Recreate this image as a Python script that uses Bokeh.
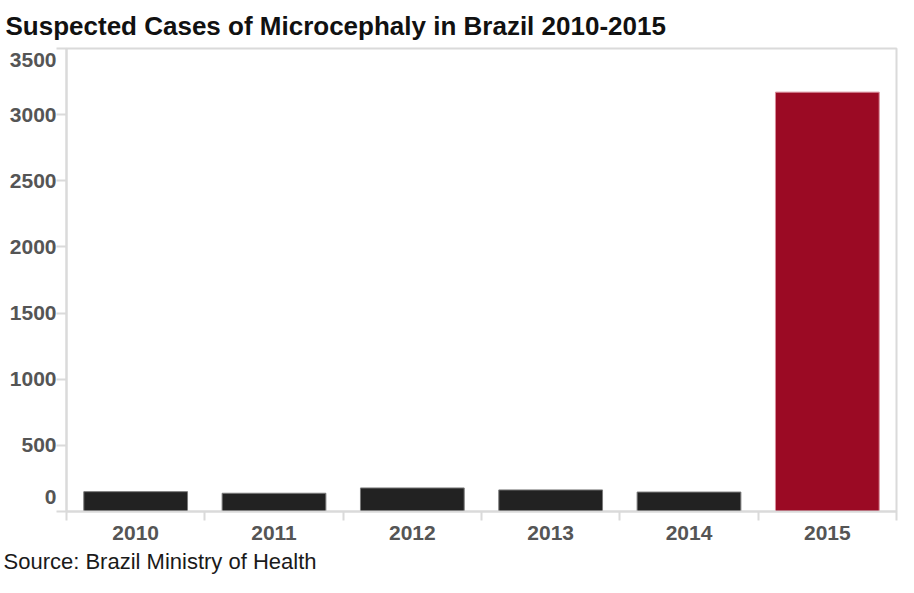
from bokeh.plotting import figure
from bokeh.models import Range1d, FixedTicker, LinearAxis, Title, ColumnDataSource
from bokeh.embed import file_html
from bokeh.resources import INLINE

# ---- data ----
years = ["2010", "2011", "2012", "2013", "2014", "2015"]
cases = [150, 138, 178, 163, 147, 3170]
bar_colors = ["#222222", "#222222", "#222222", "#222222", "#222222", "#9b0a24"]
edge_colors = ["#7a7a7a", "#7a7a7a", "#7a7a7a", "#7a7a7a", "#7a7a7a", "#d98c9a"]
y_ticks = [0, 500, 1000, 1500, 2000, 2500, 3000, 3500]
title_text = "Suspected Cases of Microcephaly in Brazil 2010-2015"
source_text = "Source: Brazil Ministry of Health"

centers = [i + 0.5 for i in range(len(years))]
bounds = list(range(len(years) + 1))

FONT = "Liberation Sans"
AXIS_GRAY = "#dadada"
LABEL_GRAY = "#555555"

W, H = 898, 577
LEFT, TOP = 66, 45
FRAME_H = 466  # approx. frame height, used only to nudge the end labels

p = figure(width=W, height=H, output_backend="svg", toolbar_location=None,
           x_range=Range1d(bounds[0], bounds[-1]), y_range=Range1d(y_ticks[0], y_ticks[-1]),
           min_border_left=LEFT, min_border_right=2, min_border_top=TOP, min_border_bottom=0)
p.background_fill_color = "white"
p.border_fill_color = "white"
p.outline_line_color = AXIS_GRAY
p.outline_line_width = 2
p.grid.visible = False

# title
p.title.text = title_text
p.title.text_font = FONT
p.title.text_font_size = "26px"
p.title.text_font_style = "bold"
p.title.text_color = "#111111"
p.title.align = "left"
p.title.offset = -(LEFT - 5)
p.title.standoff = 16

src = ColumnDataSource(dict(x=centers, top=cases, fill=bar_colors, edge=edge_colors))
p.vbar(x="x", top="top", bottom=0, width=0.75, source=src,
       fill_color="fill", line_color="edge", line_width=1)

# x axis
xa = p.xaxis[0]
xa.ticker = FixedTicker(ticks=centers, minor_ticks=bounds)
xa.major_label_overrides = {c: y for c, y in zip(centers, years)}
xa.major_tick_line_color = None
xa.major_tick_out = 0
xa.major_tick_in = 0
xa.minor_tick_line_color = AXIS_GRAY
xa.minor_tick_line_width = 2
xa.minor_tick_out = 9
xa.minor_tick_in = 0
xa.axis_line_color = AXIS_GRAY
xa.axis_line_width = 2
xa.major_label_standoff = 5
xa.major_label_text_font = FONT
xa.major_label_text_font_size = "21px"
xa.major_label_text_font_style = "bold"
xa.major_label_text_color = LABEL_GRAY

# y axis: line + ticks only
ya = p.yaxis[0]
ya.ticker = FixedTicker(ticks=y_ticks, minor_ticks=[])
ya.major_label_overrides = {t: "" for t in y_ticks}
ya.major_tick_line_color = AXIS_GRAY
ya.major_tick_line_width = 2
ya.major_tick_out = 10
ya.major_tick_in = 0
ya.axis_line_color = AXIS_GRAY
ya.axis_line_width = 2
ya.major_label_standoff = 3

# y tick labels (end labels nudged inward as in the original)
units_per_px = (y_ticks[-1] - y_ticks[0]) / FRAME_H
nudge_px = {y_ticks[0]: 14.5, y_ticks[-1]: -12}
label_pos = [t + nudge_px.get(t, 0) * units_per_px for t in y_ticks]
ya2 = LinearAxis(ticker=FixedTicker(ticks=label_pos, minor_ticks=[]),
                 major_label_overrides={pos: str(t) for pos, t in zip(label_pos, y_ticks)},
                 axis_line_color=None, major_tick_line_color=None,
                 major_tick_out=0, major_tick_in=0, minor_tick_out=0, minor_tick_in=0,
                 major_label_standoff=0,
                 major_label_text_font=FONT, major_label_text_font_size="21px",
                 major_label_text_font_style="bold", major_label_text_color=LABEL_GRAY)
p.add_layout(ya2, "left")

# source note
p.add_layout(Title(text=source_text, align="left", offset=-(LEFT - 3), text_font=FONT,
                   text_font_size="22px", text_font_style="normal", text_line_height=1.0,
                   text_color="#1a1a1a", standoff=8), "below")

open("out.html", "w").write(file_html(p, INLINE))
